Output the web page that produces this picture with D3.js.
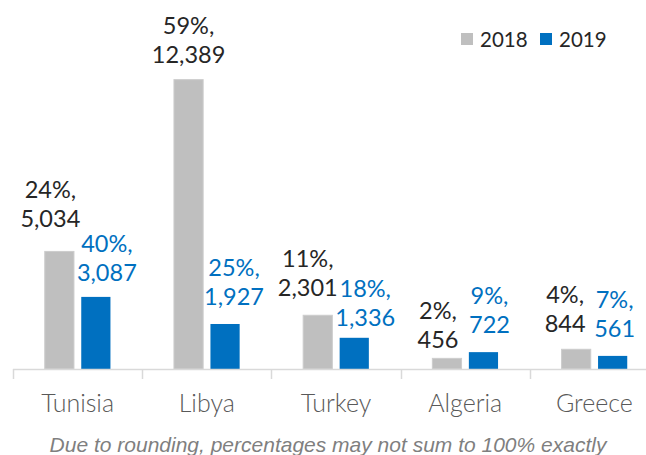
<!DOCTYPE html>
<html><head><meta charset="utf-8">
<script src="https://cdn.jsdelivr.net/npm/d3@7"></script>
<style>body{margin:0;background:#fff}svg{display:block}</style>
</head><body>
<script>
const categories = ["Tunisia","Libya","Turkey","Algeria","Greece"];
const years = ["2018","2019"];
const values2018 = [5034, 12389, 2301, 456, 844];
const values2019 = [3087, 1927, 1336, 722, 561];
const pct2018 = ["24%","59%","11%","2%","4%"];
const pct2019 = ["40%","25%","18%","9%","7%"];
const note = "Due to rounding, percentages may not sum to 100% exactly";

// label nudges (manual placement in original)
const nudge = {
  "2018": {dx:[-9,0,-10,-9,-11], gap:[24,17,19,10,17]},
  "2019": {dx:[11,9,11,6,2], gap:[16,19,12,19,19]}
};
const colors = {"2018":"#bfbfbf","2019":"#0070c0"};
const labelColors = {"2018":"#262626","2019":"#0070c0"};

const W=646,H=455;
const svg=d3.select("body").append("svg").attr("width",W).attr("height",H);
const x0=d3.scaleBand().domain(categories).range([13,659]).padding(0);
const x1=d3.scaleBand().domain(years).range([0,x0.bandwidth()]).paddingInner(0.2).paddingOuter(0.87);
const y=d3.scaleLinear().domain([0,14000]).range([369,42]);

const series = {"2018":values2018,"2019":values2019};
const pcts = {"2018":pct2018,"2019":pct2019};

years.forEach(yr=>{
  const g=svg.append("g");
  g.selectAll("rect").data(series[yr]).join("rect")
    .attr("x",(d,i)=>x0(categories[i])+x1(yr))
    .attr("y",d=>y(d))
    .attr("width",x1.bandwidth())
    .attr("height",d=>y(0)-y(d))
    .attr("fill",colors[yr])
    .attr("stroke",yr==="2018"?"#cdcdcd":"none")
    .attr("stroke-width",1);
  const t=g.selectAll("text").data(series[yr]).join("text")
    .attr("text-anchor","middle")
    .attr("font-family","Lato, sans-serif")
    .attr("font-size",23.5)
    .attr("fill",labelColors[yr]);
  t.each(function(d,i){
    const cx=x0(categories[i])+x1(yr)+x1.bandwidth()/2+nudge[yr].dx[i];
    const by=y(d)-nudge[yr].gap[i];
    const s=d3.select(this);
    s.append("tspan").attr("x",cx).attr("y",by-29).text(pcts[yr][i]+",");
    s.append("tspan").attr("x",cx).attr("y",by).text(d3.format(",")(d));
  });
});

// axis
const ag=svg.append("g").attr("transform","translate(0,369)");
ag.append("line").attr("x1",13).attr("x2",659).attr("y1",0.5).attr("y2",0.5).attr("stroke","#d9d9d9").attr("stroke-width",1.5);
const tickPos=categories.map(c=>x0(c)).concat([x0.range()[1]]);
ag.selectAll("line.tk").data(tickPos).join("line").attr("class","tk")
  .attr("x1",d=>Math.round(d)+0.5).attr("x2",d=>Math.round(d)+0.5).attr("y1",0).attr("y2",10)
  .attr("stroke","#d9d9d9").attr("stroke-width",1.5);
ag.selectAll("text.cat").data(categories).join("text").attr("class","cat")
  .attr("x",d=>x0(d)+x0.bandwidth()/2).attr("y",43)
  .attr("text-anchor","middle").attr("font-family","Lato, sans-serif").attr("font-weight",300)
  .attr("font-size",25).attr("fill","#595959").text(d=>d);

// legend
const lg=svg.append("g");
const lx=[461,540];
years.forEach((yr,i)=>{
  lg.append("rect").attr("x",lx[i]).attr("y",33).attr("width",12).attr("height",12).attr("fill",colors[yr]);
  lg.append("text").attr("x",lx[i]+19).attr("y",47).attr("font-family","Lato, sans-serif")
    .attr("font-size",20.5).attr("fill","#262626").text(yr);
});

svg.append("text").attr("x",328).attr("y",452).attr("text-anchor","middle")
  .attr("font-family","Liberation Sans, Arial, sans-serif").attr("font-style","italic")
  .attr("font-size",21).attr("fill","#7f7f7f").text(note);
</script>
</body></html>
